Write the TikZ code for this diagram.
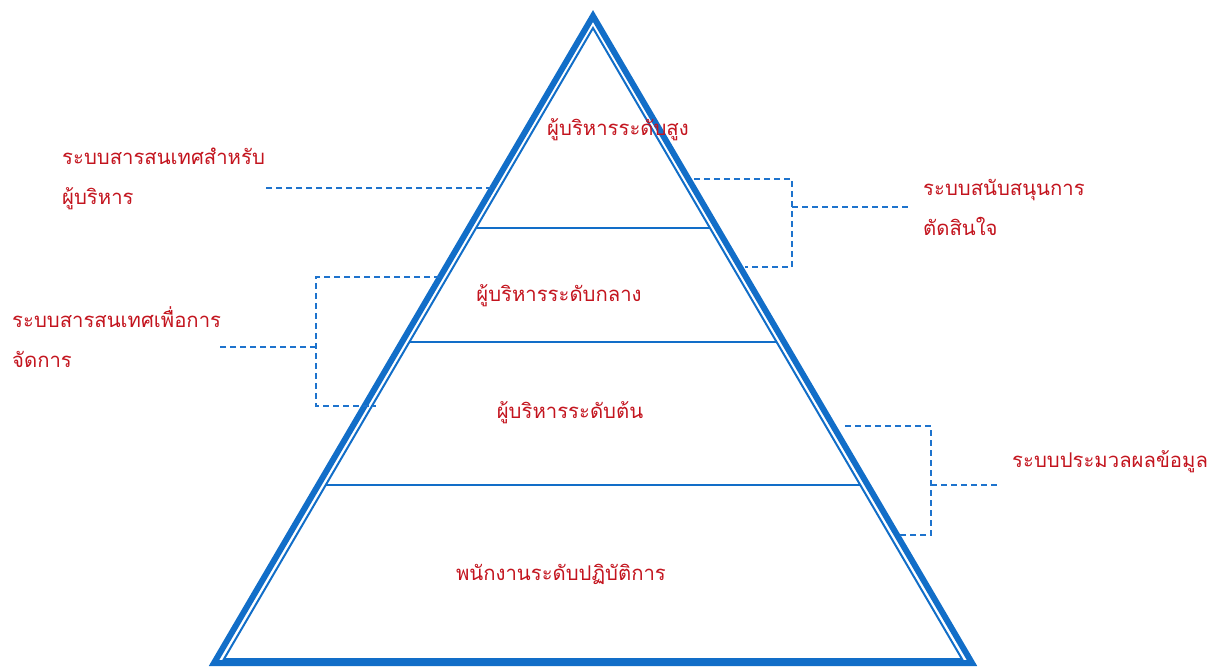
\documentclass[tikz,border=0pt]{standalone}
\usepackage{fontspec}
\newfontfamily\thaifont[Script=Thai]{Loma}
\definecolor{pyrblue}{RGB}{18,110,200}
\definecolor{dashblue}{RGB}{30,115,205}
\definecolor{txtred}{RGB}{195,20,30}
\begin{document}
\begin{tikzpicture}[x=1pt,y=-1pt,
  outerline/.style={draw=pyrblue,line width=6pt,line join=miter},
  innerline/.style={draw=pyrblue,line width=2pt,line join=miter},
  conn/.style={draw=dashblue,line width=1.6pt,dash pattern=on 6pt off 4pt},
  lvl/.style={text=txtred,font=\thaifont\fontsize{20.3}{38}\selectfont,inner sep=0pt},
  lbl/.style={text=txtred,font=\thaifont\fontsize{20.3}{40}\selectfont,inner sep=0pt,align=left,anchor=west}]
\useasboundingbox (0,0) rectangle (1216,667);
% pyramid
\coordinate (oA) at (593,16);
\coordinate (oL) at (214,663);
\coordinate (oR) at (972,663);
\coordinate (iA) at (593,28);
\coordinate (iL) at (224,659);
\coordinate (iR) at (962,659);
\draw[outerline] (oA) -- (oL) -- (oR) -- cycle;
\draw[innerline] (iA) -- (iL) -- (iR) -- cycle;
\draw[innerline] (476,228) -- (710,228);
\draw[innerline] (409.4,342) -- (776.6,342);
\draw[innerline] (325.7,485) -- (860.3,485);
% level texts
\node[lvl] (top) at (618,130) {ผู้บริหารระดับสูง};
\node[lvl] (mid) at (559,296) {ผู้บริหารระดับกลาง};
\node[lvl] (low) at (570,413) {ผู้บริหารระดับต้น};
\node[lvl] (ops) at (561,574) {พนักงานระดับปฏิบัติการ};
% side labels
\node[lbl] (eis) at (62,179) {ระบบสารสนเทศสำหรับ\\ผู้บริหาร};
\node[lbl] (mis) at (12,337) {ระบบสารสนเทศเพื่อการ\\จัดการ};
\node[lbl] (dss) at (923,207) {ระบบสนับสนุนการ\\ตัดสินใจ};
\node[lbl] (tps) at (1012,462) {ระบบประมวลผลข้อมูล};
% connectors
\coordinate (eisA) at (266,188);
\coordinate (eisB) at (491,188);
\draw[conn] (eisA) -- (eisB);
\coordinate (dssT) at (694,179);
\coordinate (dssB) at (745,267);
\coordinate (dssM) at (908,207);
\draw[conn] (dssT) -- (792,179) -- (792,267) -- (dssB);
\draw[conn] (792,207) -- (dssM);
\coordinate (misT) at (440,277);
\coordinate (misB) at (376,406);
\coordinate (misM) at (217,347);
\draw[conn] (misT) -- (316,277) -- (316,406) -- (misB);
\draw[conn] (316,347) -- (misM);
\coordinate (tpsT) at (845,426);
\coordinate (tpsB) at (900,535);
\coordinate (tpsM) at (1000,485);
\draw[conn] (tpsT) -- (931,426) -- (931,535) -- (tpsB);
\draw[conn] (931,485) -- (tpsM);
\end{tikzpicture}
\end{document}
